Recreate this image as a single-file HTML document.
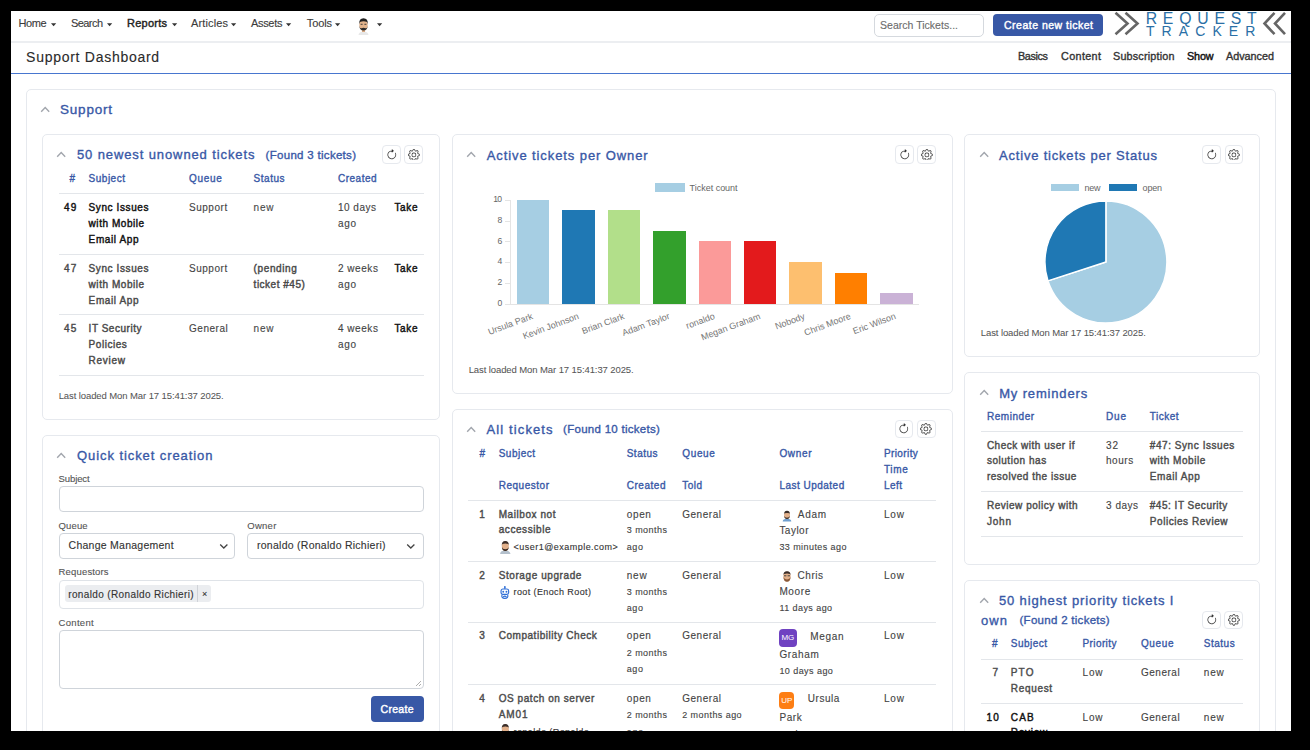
<!DOCTYPE html>
<html><head><meta charset="utf-8"><title>Support Dashboard</title>
<style>
html,body{margin:0;padding:0;}
body{width:1310px;height:750px;background:#000;position:relative;overflow:hidden;font-family:"Liberation Sans",sans-serif;}
#scr{position:absolute;left:0;top:0;width:1310px;height:750px;overflow:hidden;}
.t{position:absolute;white-space:nowrap;line-height:1;font-family:"Liberation Sans",sans-serif;}
.b{position:absolute;}
</style></head><body><div id="scr">
<div class="b" style="left:11.00px;top:11.00px;width:1280.00px;height:720.00px;background:#fff;"></div>
<div class="b" style="left:11.00px;top:41.00px;width:1280.00px;height:2.00px;background:#eceef1;"></div>
<div class="t" style="left:18.40px;top:18.00px;font-size:11px;color:#3b3b3b;letter-spacing:-0.381px;-webkit-text-stroke:0.12px #3b3b3b;">Home</div>
<svg class="b" style="left:51.00px;top:22.60px" width="6" height="4" viewBox="0 0 6 4"><path d="M0 0.2 L5.2 0.2 L2.6 3.2 Z" fill="#333"/></svg>
<div class="t" style="left:71.00px;top:18.00px;font-size:11px;color:#3b3b3b;letter-spacing:-0.571px;-webkit-text-stroke:0.12px #3b3b3b;">Search</div>
<svg class="b" style="left:107.00px;top:22.60px" width="6" height="4" viewBox="0 0 6 4"><path d="M0 0.2 L5.2 0.2 L2.6 3.2 Z" fill="#333"/></svg>
<div class="t" style="left:127.00px;top:18.00px;font-size:11px;color:#222;letter-spacing:0.247px;-webkit-text-stroke:0.42px #222;">Reports</div>
<svg class="b" style="left:172.00px;top:22.60px" width="6" height="4" viewBox="0 0 6 4"><path d="M0 0.2 L5.2 0.2 L2.6 3.2 Z" fill="#333"/></svg>
<div class="t" style="left:191.00px;top:18.00px;font-size:11px;color:#3b3b3b;letter-spacing:0.134px;-webkit-text-stroke:0.12px #3b3b3b;">Articles</div>
<svg class="b" style="left:231.00px;top:22.60px" width="6" height="4" viewBox="0 0 6 4"><path d="M0 0.2 L5.2 0.2 L2.6 3.2 Z" fill="#333"/></svg>
<div class="t" style="left:251.00px;top:18.00px;font-size:11px;color:#3b3b3b;letter-spacing:-0.322px;-webkit-text-stroke:0.12px #3b3b3b;">Assets</div>
<svg class="b" style="left:286.00px;top:22.60px" width="6" height="4" viewBox="0 0 6 4"><path d="M0 0.2 L5.2 0.2 L2.6 3.2 Z" fill="#333"/></svg>
<div class="t" style="left:306.80px;top:18.00px;font-size:11px;color:#3b3b3b;letter-spacing:-0.120px;-webkit-text-stroke:0.12px #3b3b3b;">Tools</div>
<svg class="b" style="left:335.00px;top:22.60px" width="6" height="4" viewBox="0 0 6 4"><path d="M0 0.2 L5.2 0.2 L2.6 3.2 Z" fill="#333"/></svg>
<svg class="b" style="left:377.00px;top:22.60px" width="6" height="4" viewBox="0 0 6 4"><path d="M0 0.2 L5.2 0.2 L2.6 3.2 Z" fill="#333"/></svg>
<svg class="b" style="left:357px;top:16.5px" width="13" height="18" viewBox="0 0 13 18"><path d="M1.5 18 Q2 14.5 6.5 14.5 Q11 14.5 11.5 18Z" fill="#e8e8e8"/><rect x="5" y="12" width="3" height="3" fill="#d8a880"/><ellipse cx="6.5" cy="8" rx="4.2" ry="5.6" fill="#e3b48c"/><path d="M2.2 7.2 Q1.8 1.2 6.5 1.2 Q11.2 1.2 10.8 7.2 L10 5 Q6.5 3.6 3 5 Z" fill="#222"/><path d="M2.3 8.5 Q2.6 13.6 6.5 13.6 Q10.4 13.6 10.7 8.5 Q10.2 11.6 8.5 11.2 Q6.5 10.4 4.5 11.2 Q2.8 11.6 2.3 8.5Z" fill="#2a2a2a"/><rect x="3.6" y="6.8" width="2" height="0.9" fill="#333"/><rect x="7.4" y="6.8" width="2" height="0.9" fill="#333"/></svg>
<div class="b" style="left:874.00px;top:14.00px;width:109.70px;height:22.60px;border:1px solid #d5d9de;border-radius:5px;box-sizing:border-box;"></div>
<div class="t" style="left:880.00px;top:20.00px;font-size:10.5px;color:#6c6c6c;letter-spacing:0.024px;-webkit-text-stroke:0.12px #6c6c6c;">Search Tickets...</div>
<div class="b" style="left:993.00px;top:14.30px;width:110.00px;height:21.70px;background:#3858a6;border-radius:4px;"></div>
<div class="t" style="left:1004.00px;top:20.00px;font-size:10.5px;color:#fff;letter-spacing:0.493px;-webkit-text-stroke:0.42px #fff;">Create new ticket</div>
<svg class="b" style="left:1112px;top:10px" width="180" height="28" viewBox="0 0 180 28"><g fill="none" stroke="#666" stroke-width="2.6" stroke-linecap="butt"><path d="M3.5 2.8 L15.5 13.5 L3.5 24.2"/><path d="M13.5 2.8 L25.5 13.5 L13.5 24.2"/><path d="M162.5 2.8 L152.5 13.5 L162.5 24.2"/><path d="M173 2.8 L163 13.5 L173 24.2"/></g></svg>
<div class="t" style="left:1145.70px;top:11.00px;font-size:15.8px;color:#2a6fa6;letter-spacing:5.770px;">REQUEST</div>
<div class="t" style="left:1146.00px;top:24.00px;font-size:14px;color:#2a6fa6;letter-spacing:7.067px;">TRACKER</div>
<div class="t" style="left:26.10px;top:50.00px;font-size:14px;color:#2b2b2b;letter-spacing:0.724px;-webkit-text-stroke:0.12px #2b2b2b;">Support Dashboard</div>
<div class="b" style="left:11.00px;top:73.00px;width:1280.00px;height:1.00px;background:#4776cf;"></div>
<div class="t" style="left:1018.00px;top:51.00px;font-size:10.8px;color:#333;letter-spacing:-0.362px;-webkit-text-stroke:0.35px #333;">Basics</div>
<div class="t" style="left:1061.00px;top:51.00px;font-size:10.8px;color:#333;letter-spacing:0.362px;-webkit-text-stroke:0.35px #333;">Content</div>
<div class="t" style="left:1113.00px;top:51.00px;font-size:10.8px;color:#333;letter-spacing:0.188px;-webkit-text-stroke:0.35px #333;">Subscription</div>
<div class="t" style="left:1187.00px;top:51.00px;font-size:10.8px;color:#111;letter-spacing:-0.139px;-webkit-text-stroke:0.42px #111;">Show</div>
<div class="t" style="left:1226.00px;top:51.00px;font-size:10.8px;color:#333;letter-spacing:-0.005px;-webkit-text-stroke:0.35px #333;">Advanced</div>
<div class="b" style="left:26.00px;top:89.00px;width:1250.00px;height:712.00px;border:1px solid #e6e9ee;border-radius:5px;box-sizing:border-box;background:#fff;"></div>
<svg class="b" style="left:40px;top:105.5px" width="11" height="8" viewBox="0 0 11 8"><path d="M1.2 5.8 L5.2 1.6 L9.2 5.8" fill="none" stroke="#a2a6ad" stroke-width="1.4"/></svg>
<div class="t" style="left:60.00px;top:103.00px;font-size:13.5px;color:#3858a6;letter-spacing:0.786px;-webkit-text-stroke:0.35px #3858a6;">Support</div>
<div class="b" style="left:42.00px;top:134.00px;width:398.00px;height:286.00px;border:1px solid #e6e9ee;border-radius:5px;box-sizing:border-box;background:#fff;"></div>
<svg class="b" style="left:56.3px;top:150.6px" width="11" height="8" viewBox="0 0 11 8"><path d="M1.2 5.8 L5.2 1.6 L9.2 5.8" fill="none" stroke="#a2a6ad" stroke-width="1.4"/></svg>
<div class="t" style="left:77.00px;top:148.00px;font-size:13px;color:#3858a6;letter-spacing:0.888px;-webkit-text-stroke:0.35px #3858a6;">50 newest unowned tickets</div>
<div class="t" style="left:265.60px;top:150.00px;font-size:11.5px;color:#3858a6;letter-spacing:0.297px;-webkit-text-stroke:0.35px #3858a6;">(Found 3 tickets)</div>
<div class="b" style="left:382.10px;top:145.40px;width:18.80px;height:18.30px;border:1px solid #e6e9ee;border-radius:4px;box-sizing:border-box;background:#fff;"></div>
<div class="b" style="left:404.40px;top:145.40px;width:18.80px;height:18.30px;border:1px solid #e6e9ee;border-radius:4px;box-sizing:border-box;background:#fff;"></div>
<svg class="b" style="left:385.90px;top:148.70px" width="11.6" height="11.6" viewBox="0 0 16 16"><path fill="#333" fill-rule="evenodd" d="M8 3a5 5 0 1 0 4.546 2.914.5.5 0 0 1 .908-.417A6 6 0 1 1 8 2v1zM8 4.466V.534a.25.25 0 0 1 .41-.192l2.36 1.966c.12.1.12.284 0 .384L8.41 4.658A.25.25 0 0 1 8 4.466z"/></svg>
<svg class="b" style="left:408.00px;top:148.60px" width="11.8" height="11.8" viewBox="0 0 16 16"><path fill="#333" d="M8 4.754a3.246 3.246 0 1 0 0 6.492 3.246 3.246 0 0 0 0-6.492zM5.754 8a2.246 2.246 0 1 1 4.492 0 2.246 2.246 0 0 1-4.492 0zM9.796 1.343c-.527-1.79-3.065-1.79-3.592 0l-.094.319a.873.873 0 0 1-1.255.52l-.292-.16c-1.64-.892-3.433.902-2.54 2.541l.159.292a.873.873 0 0 1-.52 1.255l-.319.094c-1.79.527-1.790 3.065 0 3.592l.319.094a.873.873 0 0 1 .52 1.255l-.16.292c-.892 1.64.901 3.434 2.541 2.54l.292-.159a.873.873 0 0 1 1.255.52l.094.319c.527 1.79 3.065 1.79 3.592 0l.094-.319a.873.873 0 0 1 1.255-.52l.292.16c1.64.893 3.434-.902 2.54-2.541l-.159-.292a.873.873 0 0 1 .52-1.255l.319-.094c1.79-.527 1.79-3.065 0-3.592l-.319-.094a.873.873 0 0 1-.52-1.255l.16-.292c.893-1.64-.902-3.433-2.541-2.54l-.292.159a.873.873 0 0 1-1.255-.52l-.094-.319zm-2.633.283c.246-.835 1.428-.835 1.674 0l.094.319a1.873 1.873 0 0 0 2.693 1.115l.291-.16c.764-.415 1.6.42 1.184 1.185l-.159.292a1.873 1.873 0 0 0 1.116 2.692l.318.094c.835.246.835 1.428 0 1.674l-.319.094a1.873 1.873 0 0 0-1.115 2.693l.16.291c.415.764-.42 1.6-1.185 1.184l-.291-.159a1.873 1.873 0 0 0-2.693 1.116l-.094.318c-.246.835-1.428.835-1.674 0l-.094-.319a1.873 1.873 0 0 0-2.692-1.115l-.292.16c-.764.415-1.6-.42-1.184-1.185l.159-.291A1.873 1.873 0 0 0 1.945 8.93l-.319-.094c-.835-.246-.835-1.428 0-1.674l.319-.094A1.873 1.873 0 0 0 3.06 4.377l-.16-.292c-.415-.764.42-1.6 1.185-1.184l.292.159a1.873 1.873 0 0 0 2.692-1.115l.094-.319z"/></svg>
<div class="t" style="left:69.50px;top:174.00px;font-size:10px;color:#3858a6;-webkit-text-stroke:0.35px #3858a6;">#</div>
<div class="t" style="left:88.60px;top:174.00px;font-size:10px;color:#3858a6;letter-spacing:0.500px;-webkit-text-stroke:0.35px #3858a6;">Subject</div>
<div class="t" style="left:189.00px;top:174.00px;font-size:10px;color:#3858a6;letter-spacing:0.676px;-webkit-text-stroke:0.35px #3858a6;">Queue</div>
<div class="t" style="left:253.60px;top:174.00px;font-size:10px;color:#3858a6;letter-spacing:0.510px;-webkit-text-stroke:0.35px #3858a6;">Status</div>
<div class="t" style="left:337.90px;top:174.00px;font-size:10px;color:#3858a6;letter-spacing:0.534px;-webkit-text-stroke:0.35px #3858a6;">Created</div>
<div class="b" style="left:58.80px;top:192.70px;width:364.90px;height:1.00px;background:#e3e6ea;"></div>
<div class="t" style="left:64.05px;top:203.00px;font-size:10px;color:#111;letter-spacing:1.224px;-webkit-text-stroke:0.42px #111;">49</div>
<div class="t" style="left:88.60px;top:203.00px;font-size:10px;color:#111;letter-spacing:0.593px;-webkit-text-stroke:0.42px #111;">Sync Issues</div>
<div class="t" style="left:88.60px;top:219.00px;font-size:10px;color:#111;letter-spacing:0.550px;-webkit-text-stroke:0.42px #111;">with Mobile</div>
<div class="t" style="left:88.60px;top:235.00px;font-size:10px;color:#111;letter-spacing:0.619px;-webkit-text-stroke:0.42px #111;">Email App</div>
<div class="t" style="left:189.00px;top:203.00px;font-size:10px;color:#444;letter-spacing:0.525px;-webkit-text-stroke:0.12px #444;">Support</div>
<div class="t" style="left:253.60px;top:203.00px;font-size:10px;color:#4a4a4a;letter-spacing:0.826px;-webkit-text-stroke:0.12px #4a4a4a;">new</div>
<div class="t" style="left:337.90px;top:203.00px;font-size:10px;color:#444;letter-spacing:0.525px;-webkit-text-stroke:0.12px #444;">10 days</div>
<div class="t" style="left:337.90px;top:219.00px;font-size:10px;color:#444;letter-spacing:0.751px;-webkit-text-stroke:0.12px #444;">ago</div>
<div class="t" style="left:394.40px;top:203.00px;font-size:10px;color:#111;letter-spacing:0.692px;-webkit-text-stroke:0.42px #111;">Take</div>
<div class="t" style="left:64.05px;top:264.00px;font-size:10px;color:#4a4a4a;letter-spacing:1.224px;-webkit-text-stroke:0.42px #4a4a4a;">47</div>
<div class="t" style="left:88.60px;top:264.00px;font-size:10px;color:#4a4a4a;letter-spacing:0.593px;-webkit-text-stroke:0.42px #4a4a4a;">Sync Issues</div>
<div class="t" style="left:88.60px;top:280.00px;font-size:10px;color:#4a4a4a;letter-spacing:0.550px;-webkit-text-stroke:0.42px #4a4a4a;">with Mobile</div>
<div class="t" style="left:88.60px;top:296.00px;font-size:10px;color:#4a4a4a;letter-spacing:0.619px;-webkit-text-stroke:0.42px #4a4a4a;">Email App</div>
<div class="t" style="left:189.00px;top:264.00px;font-size:10px;color:#444;letter-spacing:0.525px;-webkit-text-stroke:0.12px #444;">Support</div>
<div class="t" style="left:253.60px;top:264.00px;font-size:10px;color:#4a4a4a;letter-spacing:0.612px;-webkit-text-stroke:0.42px #4a4a4a;">(pending</div>
<div class="t" style="left:253.60px;top:280.00px;font-size:10px;color:#4a4a4a;letter-spacing:0.507px;-webkit-text-stroke:0.42px #4a4a4a;">ticket #45)</div>
<div class="t" style="left:337.90px;top:264.00px;font-size:10px;color:#444;letter-spacing:0.550px;-webkit-text-stroke:0.12px #444;">2 weeks</div>
<div class="t" style="left:337.90px;top:280.00px;font-size:10px;color:#444;letter-spacing:0.751px;-webkit-text-stroke:0.12px #444;">ago</div>
<div class="t" style="left:394.40px;top:264.00px;font-size:10px;color:#111;letter-spacing:0.692px;-webkit-text-stroke:0.42px #111;">Take</div>
<div class="t" style="left:64.05px;top:324.00px;font-size:10px;color:#4a4a4a;letter-spacing:1.224px;-webkit-text-stroke:0.42px #4a4a4a;">45</div>
<div class="t" style="left:88.60px;top:324.00px;font-size:10px;color:#4a4a4a;letter-spacing:0.524px;-webkit-text-stroke:0.42px #4a4a4a;">IT Security</div>
<div class="t" style="left:88.60px;top:340.00px;font-size:10px;color:#4a4a4a;letter-spacing:0.542px;-webkit-text-stroke:0.42px #4a4a4a;">Policies</div>
<div class="t" style="left:88.60px;top:356.00px;font-size:10px;color:#4a4a4a;letter-spacing:0.721px;-webkit-text-stroke:0.42px #4a4a4a;">Review</div>
<div class="t" style="left:189.00px;top:324.00px;font-size:10px;color:#444;letter-spacing:0.534px;-webkit-text-stroke:0.12px #444;">General</div>
<div class="t" style="left:253.60px;top:324.00px;font-size:10px;color:#4a4a4a;letter-spacing:0.826px;-webkit-text-stroke:0.12px #4a4a4a;">new</div>
<div class="t" style="left:337.90px;top:324.00px;font-size:10px;color:#444;letter-spacing:0.550px;-webkit-text-stroke:0.12px #444;">4 weeks</div>
<div class="t" style="left:337.90px;top:340.00px;font-size:10px;color:#444;letter-spacing:0.751px;-webkit-text-stroke:0.12px #444;">ago</div>
<div class="t" style="left:394.40px;top:324.00px;font-size:10px;color:#111;letter-spacing:0.692px;-webkit-text-stroke:0.42px #111;">Take</div>
<div class="b" style="left:58.80px;top:253.80px;width:364.90px;height:1.00px;background:#e3e6ea;"></div>
<div class="b" style="left:58.80px;top:313.60px;width:364.90px;height:1.00px;background:#e3e6ea;"></div>
<div class="b" style="left:58.80px;top:374.70px;width:364.90px;height:1.00px;background:#e3e6ea;"></div>
<div class="t" style="left:58.70px;top:391.00px;font-size:9.5px;color:#555;letter-spacing:-0.097px;-webkit-text-stroke:0.05px #555;">Last loaded Mon Mar 17 15:41:37 2025.</div>
<div class="b" style="left:42.00px;top:435.00px;width:398.00px;height:366.00px;border:1px solid #e6e9ee;border-radius:5px;box-sizing:border-box;background:#fff;"></div>
<svg class="b" style="left:56.3px;top:451.6px" width="11" height="8" viewBox="0 0 11 8"><path d="M1.2 5.8 L5.2 1.6 L9.2 5.8" fill="none" stroke="#a2a6ad" stroke-width="1.4"/></svg>
<div class="t" style="left:77.00px;top:449.00px;font-size:13px;color:#3858a6;letter-spacing:0.923px;-webkit-text-stroke:0.35px #3858a6;">Quick ticket creation</div>
<div class="t" style="left:58.60px;top:474.00px;font-size:9.5px;color:#555;letter-spacing:-0.115px;-webkit-text-stroke:0.12px #555;">Subject</div>
<div class="b" style="left:58.60px;top:485.60px;width:365.00px;height:26.40px;border:1px solid #cfd4da;border-radius:4px;box-sizing:border-box;"></div>
<div class="t" style="left:58.60px;top:521.00px;font-size:9.5px;color:#555;letter-spacing:0.119px;-webkit-text-stroke:0.12px #555;">Queue</div>
<div class="t" style="left:247.30px;top:521.00px;font-size:9.5px;color:#555;letter-spacing:0.255px;-webkit-text-stroke:0.12px #555;">Owner</div>
<div class="b" style="left:58.60px;top:532.60px;width:176.00px;height:26.00px;border:1px solid #cfd4da;border-radius:4px;box-sizing:border-box;"></div>
<div class="b" style="left:247.30px;top:532.60px;width:176.30px;height:26.00px;border:1px solid #cfd4da;border-radius:4px;box-sizing:border-box;"></div>
<div class="t" style="left:68.60px;top:540.00px;font-size:10.5px;color:#333;letter-spacing:0.251px;-webkit-text-stroke:0.12px #333;">Change Management</div>
<div class="t" style="left:257.00px;top:540.00px;font-size:10.5px;color:#333;letter-spacing:0.261px;-webkit-text-stroke:0.12px #333;">ronaldo (Ronaldo Richieri)</div>
<svg class="b" style="left:218.8px;top:542.5px" width="10" height="7" viewBox="0 0 10 7"><path d="M1.2 1.5 L4.8 5 L8.4 1.5" fill="none" stroke="#444" stroke-width="1.3"/></svg>
<svg class="b" style="left:405.5px;top:542.5px" width="10" height="7" viewBox="0 0 10 7"><path d="M1.2 1.5 L4.8 5 L8.4 1.5" fill="none" stroke="#444" stroke-width="1.3"/></svg>
<div class="t" style="left:58.60px;top:567.00px;font-size:9.5px;color:#555;letter-spacing:0.158px;-webkit-text-stroke:0.12px #555;">Requestors</div>
<div class="b" style="left:58.60px;top:580.40px;width:365.00px;height:29.00px;border:1px solid #dfe3e8;border-radius:4px;box-sizing:border-box;"></div>
<div class="b" style="left:64.60px;top:585.40px;width:146.80px;height:16.60px;background:#ebedf0;border-radius:3px;"></div>
<div class="b" style="left:197.40px;top:585.40px;width:0.80px;height:16.60px;background:#d0d3d8;"></div>
<div class="t" style="left:68.20px;top:590.00px;font-size:10px;color:#333;letter-spacing:0.373px;-webkit-text-stroke:0.12px #333;">ronaldo (Ronaldo Richieri)</div>
<div class="t" style="left:202.00px;top:590.00px;font-size:9px;color:#333;-webkit-text-stroke:0.12px #333;">×</div>
<div class="t" style="left:58.60px;top:618.00px;font-size:9.5px;color:#555;letter-spacing:0.288px;-webkit-text-stroke:0.12px #555;">Content</div>
<div class="b" style="left:58.60px;top:630.20px;width:365.00px;height:58.70px;border:1px solid #cfd4da;border-radius:4px;box-sizing:border-box;"></div>
<svg class="b" style="left:414px;top:679px" width="8" height="8" viewBox="0 0 8 8"><path d="M7 2 L2 7 M7 5 L5 7" stroke="#999" stroke-width="0.8"/></svg>
<div class="b" style="left:370.50px;top:696.20px;width:53.10px;height:25.50px;background:#3858a6;border-radius:4px;"></div>
<div class="t" style="left:380.50px;top:704.00px;font-size:10.5px;color:#fff;letter-spacing:0.297px;-webkit-text-stroke:0.42px #fff;">Create</div>
<div class="b" style="left:452.00px;top:134.00px;width:501.00px;height:260.00px;border:1px solid #e6e9ee;border-radius:5px;box-sizing:border-box;background:#fff;"></div>
<svg class="b" style="left:466.3px;top:150.6px" width="11" height="8" viewBox="0 0 11 8"><path d="M1.2 5.8 L5.2 1.6 L9.2 5.8" fill="none" stroke="#a2a6ad" stroke-width="1.4"/></svg>
<div class="t" style="left:486.70px;top:149.00px;font-size:13px;color:#3858a6;letter-spacing:0.906px;-webkit-text-stroke:0.35px #3858a6;">Active tickets per Owner</div>
<div class="b" style="left:895.00px;top:145.30px;width:18.80px;height:18.30px;border:1px solid #e6e9ee;border-radius:4px;box-sizing:border-box;background:#fff;"></div>
<div class="b" style="left:917.30px;top:145.30px;width:18.80px;height:18.30px;border:1px solid #e6e9ee;border-radius:4px;box-sizing:border-box;background:#fff;"></div>
<svg class="b" style="left:898.80px;top:148.60px" width="11.6" height="11.6" viewBox="0 0 16 16"><path fill="#333" fill-rule="evenodd" d="M8 3a5 5 0 1 0 4.546 2.914.5.5 0 0 1 .908-.417A6 6 0 1 1 8 2v1zM8 4.466V.534a.25.25 0 0 1 .41-.192l2.36 1.966c.12.1.12.284 0 .384L8.41 4.658A.25.25 0 0 1 8 4.466z"/></svg>
<svg class="b" style="left:920.90px;top:148.50px" width="11.8" height="11.8" viewBox="0 0 16 16"><path fill="#333" d="M8 4.754a3.246 3.246 0 1 0 0 6.492 3.246 3.246 0 0 0 0-6.492zM5.754 8a2.246 2.246 0 1 1 4.492 0 2.246 2.246 0 0 1-4.492 0zM9.796 1.343c-.527-1.79-3.065-1.79-3.592 0l-.094.319a.873.873 0 0 1-1.255.52l-.292-.16c-1.64-.892-3.433.902-2.54 2.541l.159.292a.873.873 0 0 1-.52 1.255l-.319.094c-1.79.527-1.790 3.065 0 3.592l.319.094a.873.873 0 0 1 .52 1.255l-.16.292c-.892 1.64.901 3.434 2.541 2.54l.292-.159a.873.873 0 0 1 1.255.52l.094.319c.527 1.79 3.065 1.79 3.592 0l.094-.319a.873.873 0 0 1 1.255-.52l.292.16c1.64.893 3.434-.902 2.54-2.541l-.159-.292a.873.873 0 0 1 .52-1.255l.319-.094c1.79-.527 1.79-3.065 0-3.592l-.319-.094a.873.873 0 0 1-.52-1.255l.16-.292c.893-1.64-.902-3.433-2.541-2.54l-.292.159a.873.873 0 0 1-1.255-.52l-.094-.319zm-2.633.283c.246-.835 1.428-.835 1.674 0l.094.319a1.873 1.873 0 0 0 2.693 1.115l.291-.16c.764-.415 1.6.42 1.184 1.185l-.159.292a1.873 1.873 0 0 0 1.116 2.692l.318.094c.835.246.835 1.428 0 1.674l-.319.094a1.873 1.873 0 0 0-1.115 2.693l.16.291c.415.764-.42 1.6-1.185 1.184l-.291-.159a1.873 1.873 0 0 0-2.693 1.116l-.094.318c-.246.835-1.428.835-1.674 0l-.094-.319a1.873 1.873 0 0 0-2.692-1.115l-.292.16c-.764.415-1.6-.42-1.184-1.185l.159-.291A1.873 1.873 0 0 0 1.945 8.93l-.319-.094c-.835-.246-.835-1.428 0-1.674l.319-.094A1.873 1.873 0 0 0 3.06 4.377l-.16-.292c-.415-.764.42-1.6 1.185-1.184l.292.159a1.873 1.873 0 0 0 2.692-1.115l.094-.319z"/></svg>
<div class="b" style="left:655.20px;top:183.40px;width:30.00px;height:8.60px;background:#a6cee3;"></div>
<div class="t" style="left:689.60px;top:184.00px;font-size:9px;color:#666;letter-spacing:-0.017px;">Ticket count</div>
<div class="b" style="left:510px;top:200px;width:1px;height:104.10000000000002px;background:#e4e4e4"></div>
<div class="b" style="left:510px;top:303.6px;width:409px;height:1px;background:#e4e4e4"></div>
<div class="b" style="left:504.7px;top:303.60px;width:5.5px;height:1px;background:#e4e4e4"></div>
<div class="t" style="left:497.60px;top:299.00px;font-size:8.6px;color:#666;">0</div>
<div class="b" style="left:504.7px;top:282.88px;width:5.5px;height:1px;background:#e4e4e4"></div>
<div class="t" style="left:497.60px;top:278.00px;font-size:8.6px;color:#666;">2</div>
<div class="b" style="left:504.7px;top:262.16px;width:5.5px;height:1px;background:#e4e4e4"></div>
<div class="t" style="left:497.60px;top:257.00px;font-size:8.6px;color:#666;">4</div>
<div class="b" style="left:504.7px;top:241.44px;width:5.5px;height:1px;background:#e4e4e4"></div>
<div class="t" style="left:497.60px;top:237.00px;font-size:8.6px;color:#666;">6</div>
<div class="b" style="left:504.7px;top:220.72px;width:5.5px;height:1px;background:#e4e4e4"></div>
<div class="t" style="left:497.60px;top:216.00px;font-size:8.6px;color:#666;">8</div>
<div class="b" style="left:504.7px;top:200.00px;width:5.5px;height:1px;background:#e4e4e4"></div>
<div class="t" style="left:493.20px;top:195.00px;font-size:8.6px;color:#666;letter-spacing:-0.765px;">10</div>
<div class="b" style="left:517.00px;top:200.00px;width:32.40px;height:103.60px;background:#a6cee3;"></div>
<div class="t" style="left:484.19px;top:312.00px;font-size:9px;color:#767676;transform-origin:100% 0;transform:rotate(-20.5deg)">Ursula Park</div>
<div class="b" style="left:562.30px;top:210.36px;width:32.70px;height:93.24px;background:#1f78b4;"></div>
<div class="t" style="left:517.61px;top:312.00px;font-size:9px;color:#767676;transform-origin:100% 0;transform:rotate(-20.5deg)">Kevin Johnson</div>
<div class="b" style="left:608.00px;top:210.36px;width:32.20px;height:93.24px;background:#b2df8a;"></div>
<div class="t" style="left:577.59px;top:312.00px;font-size:9px;color:#767676;transform-origin:100% 0;transform:rotate(-20.5deg)">Brian Clark</div>
<div class="b" style="left:653.40px;top:231.08px;width:32.20px;height:72.52px;background:#33a02c;"></div>
<div class="t" style="left:617.64px;top:312.00px;font-size:9px;color:#767676;transform-origin:100% 0;transform:rotate(-20.5deg)">Adam Taylor</div>
<div class="b" style="left:698.50px;top:241.44px;width:32.50px;height:62.16px;background:#fb9a99;"></div>
<div class="t" style="left:682.73px;top:312.00px;font-size:9px;color:#767676;transform-origin:100% 0;transform:rotate(-20.5deg)">ronaldo</div>
<div class="b" style="left:744.00px;top:241.44px;width:32.20px;height:62.16px;background:#e31a1c;"></div>
<div class="t" style="left:695.57px;top:312.00px;font-size:9px;color:#767676;transform-origin:100% 0;transform:rotate(-20.5deg)">Megan Graham</div>
<div class="b" style="left:789.00px;top:262.16px;width:33.00px;height:41.44px;background:#fdbf6f;"></div>
<div class="t" style="left:772.48px;top:312.00px;font-size:9px;color:#767676;transform-origin:100% 0;transform:rotate(-20.5deg)">Nobody</div>
<div class="b" style="left:834.70px;top:272.52px;width:32.60px;height:31.08px;background:#ff7f00;"></div>
<div class="t" style="left:799.99px;top:312.00px;font-size:9px;color:#767676;transform-origin:100% 0;transform:rotate(-20.5deg)">Chris Moore</div>
<div class="b" style="left:880.00px;top:293.24px;width:32.70px;height:10.36px;background:#cab2d6;"></div>
<div class="t" style="left:849.34px;top:312.00px;font-size:9px;color:#767676;transform-origin:100% 0;transform:rotate(-20.5deg)">Eric Wilson</div>
<div class="t" style="left:468.70px;top:365.00px;font-size:9.5px;color:#555;letter-spacing:-0.097px;-webkit-text-stroke:0.05px #555;">Last loaded Mon Mar 17 15:41:37 2025.</div>
<div class="b" style="left:452.00px;top:409.00px;width:501.00px;height:392.00px;border:1px solid #e6e9ee;border-radius:5px;box-sizing:border-box;background:#fff;"></div>
<svg class="b" style="left:466.3px;top:425.6px" width="11" height="8" viewBox="0 0 11 8"><path d="M1.2 5.8 L5.2 1.6 L9.2 5.8" fill="none" stroke="#a2a6ad" stroke-width="1.4"/></svg>
<div class="t" style="left:486.60px;top:423.00px;font-size:13px;color:#3858a6;letter-spacing:1.110px;-webkit-text-stroke:0.35px #3858a6;">All tickets</div>
<div class="t" style="left:563.10px;top:424.00px;font-size:11.5px;color:#3858a6;letter-spacing:0.274px;-webkit-text-stroke:0.35px #3858a6;">(Found 10 tickets)</div>
<div class="b" style="left:894.50px;top:420.10px;width:18.80px;height:18.30px;border:1px solid #e6e9ee;border-radius:4px;box-sizing:border-box;background:#fff;"></div>
<div class="b" style="left:916.80px;top:420.10px;width:18.80px;height:18.30px;border:1px solid #e6e9ee;border-radius:4px;box-sizing:border-box;background:#fff;"></div>
<svg class="b" style="left:898.30px;top:423.40px" width="11.6" height="11.6" viewBox="0 0 16 16"><path fill="#333" fill-rule="evenodd" d="M8 3a5 5 0 1 0 4.546 2.914.5.5 0 0 1 .908-.417A6 6 0 1 1 8 2v1zM8 4.466V.534a.25.25 0 0 1 .41-.192l2.36 1.966c.12.1.12.284 0 .384L8.41 4.658A.25.25 0 0 1 8 4.466z"/></svg>
<svg class="b" style="left:920.40px;top:423.30px" width="11.8" height="11.8" viewBox="0 0 16 16"><path fill="#333" d="M8 4.754a3.246 3.246 0 1 0 0 6.492 3.246 3.246 0 0 0 0-6.492zM5.754 8a2.246 2.246 0 1 1 4.492 0 2.246 2.246 0 0 1-4.492 0zM9.796 1.343c-.527-1.79-3.065-1.79-3.592 0l-.094.319a.873.873 0 0 1-1.255.52l-.292-.16c-1.64-.892-3.433.902-2.54 2.541l.159.292a.873.873 0 0 1-.52 1.255l-.319.094c-1.79.527-1.790 3.065 0 3.592l.319.094a.873.873 0 0 1 .52 1.255l-.16.292c-.892 1.64.901 3.434 2.541 2.54l.292-.159a.873.873 0 0 1 1.255.52l.094.319c.527 1.79 3.065 1.79 3.592 0l.094-.319a.873.873 0 0 1 1.255-.52l.292.16c1.64.893 3.434-.902 2.54-2.541l-.159-.292a.873.873 0 0 1 .52-1.255l.319-.094c1.79-.527 1.79-3.065 0-3.592l-.319-.094a.873.873 0 0 1-.52-1.255l.16-.292c.893-1.64-.902-3.433-2.541-2.54l-.292.159a.873.873 0 0 1-1.255-.52l-.094-.319zm-2.633.283c.246-.835 1.428-.835 1.674 0l.094.319a1.873 1.873 0 0 0 2.693 1.115l.291-.16c.764-.415 1.6.42 1.184 1.185l-.159.292a1.873 1.873 0 0 0 1.116 2.692l.318.094c.835.246.835 1.428 0 1.674l-.319.094a1.873 1.873 0 0 0-1.115 2.693l.16.291c.415.764-.42 1.6-1.185 1.184l-.291-.159a1.873 1.873 0 0 0-2.693 1.116l-.094.318c-.246.835-1.428.835-1.674 0l-.094-.319a1.873 1.873 0 0 0-2.692-1.115l-.292.16c-.764.415-1.6-.42-1.184-1.185l.159-.291A1.873 1.873 0 0 0 1.945 8.93l-.319-.094c-.835-.246-.835-1.428 0-1.674l.319-.094A1.873 1.873 0 0 0 3.06 4.377l-.16-.292c-.415-.764.42-1.6 1.185-1.184l.292.159a1.873 1.873 0 0 0 2.692-1.115l.094-.319z"/></svg>
<div class="t" style="left:479.50px;top:449.00px;font-size:10px;color:#3858a6;-webkit-text-stroke:0.35px #3858a6;">#</div>
<div class="t" style="left:498.70px;top:449.00px;font-size:10px;color:#3858a6;letter-spacing:0.500px;-webkit-text-stroke:0.35px #3858a6;">Subject</div>
<div class="t" style="left:626.70px;top:449.00px;font-size:10px;color:#3858a6;letter-spacing:0.510px;-webkit-text-stroke:0.35px #3858a6;">Status</div>
<div class="t" style="left:682.20px;top:449.00px;font-size:10px;color:#3858a6;letter-spacing:0.676px;-webkit-text-stroke:0.35px #3858a6;">Queue</div>
<div class="t" style="left:779.40px;top:449.00px;font-size:10px;color:#3858a6;letter-spacing:0.663px;-webkit-text-stroke:0.35px #3858a6;">Owner</div>
<div class="t" style="left:883.90px;top:449.00px;font-size:10px;color:#3858a6;letter-spacing:0.400px;-webkit-text-stroke:0.35px #3858a6;">Priority</div>
<div class="t" style="left:883.90px;top:465.00px;font-size:10px;color:#3858a6;letter-spacing:0.656px;-webkit-text-stroke:0.35px #3858a6;">Time</div>
<div class="t" style="left:498.70px;top:481.00px;font-size:10px;color:#3858a6;letter-spacing:0.519px;-webkit-text-stroke:0.35px #3858a6;">Requestor</div>
<div class="t" style="left:626.70px;top:481.00px;font-size:10px;color:#3858a6;letter-spacing:0.534px;-webkit-text-stroke:0.35px #3858a6;">Created</div>
<div class="t" style="left:682.20px;top:481.00px;font-size:10px;color:#3858a6;letter-spacing:0.550px;-webkit-text-stroke:0.35px #3858a6;">Told</div>
<div class="t" style="left:779.40px;top:481.00px;font-size:10px;color:#3858a6;letter-spacing:0.487px;-webkit-text-stroke:0.35px #3858a6;">Last Updated</div>
<div class="t" style="left:883.90px;top:481.00px;font-size:10px;color:#3858a6;letter-spacing:0.500px;-webkit-text-stroke:0.35px #3858a6;">Left</div>
<div class="b" style="left:468.20px;top:500.10px;width:467.50px;height:1.00px;background:#e3e6ea;"></div>
<div class="t" style="left:479.33px;top:510.00px;font-size:10px;color:#4d4d4d;-webkit-text-stroke:0.42px #4d4d4d;">1</div>
<div class="t" style="left:498.70px;top:510.00px;font-size:10px;color:#4d4d4d;letter-spacing:0.563px;-webkit-text-stroke:0.42px #4d4d4d;">Mailbox not</div>
<div class="t" style="left:498.70px;top:525.00px;font-size:10px;color:#4d4d4d;letter-spacing:0.571px;-webkit-text-stroke:0.42px #4d4d4d;">accessible</div>
<svg class="b" style="left:498.7px;top:540.3px" width="12.6" height="14" viewBox="0 0 12 14"><path d="M0.8 14 Q1 10.6 6 10.6 Q11 10.6 11.2 14Z" fill="#b4c0cc"/><ellipse cx="6" cy="6.2" rx="3.5" ry="4.6" fill="#e2b08a"/><path d="M2.5 5.8 Q2.2 1 6 1 Q9.8 1 9.5 5.8 L9 4 Q6 3.2 3 4Z" fill="#3a2e2a"/><path d="M2.6 7 Q2.8 11 6 11 Q9.2 11 9.4 7 Q8.8 9.2 6 9.3 Q3.2 9.2 2.6 7Z" fill="#3a2a22"/></svg>
<div class="t" style="left:513.50px;top:543.00px;font-size:9px;color:#333;letter-spacing:0.478px;-webkit-text-stroke:0.12px #333;">&lt;user1@example.com&gt;</div>
<div class="t" style="left:626.70px;top:510.00px;font-size:10px;color:#444;letter-spacing:0.667px;-webkit-text-stroke:0.12px #444;">open</div>
<div class="t" style="left:626.70px;top:526.00px;font-size:9px;color:#444;letter-spacing:0.476px;-webkit-text-stroke:0.12px #444;">3 months</div>
<div class="t" style="left:626.70px;top:543.00px;font-size:9px;color:#444;letter-spacing:0.676px;-webkit-text-stroke:0.12px #444;">ago</div>
<div class="t" style="left:682.20px;top:510.00px;font-size:10px;color:#444;letter-spacing:0.534px;-webkit-text-stroke:0.12px #444;">General</div>
<svg class="b" style="left:782px;top:508.5px" width="10" height="13.5" viewBox="0 0 12 14"><path d="M0.8 14 Q1 10.6 6 10.6 Q11 10.6 11.2 14Z" fill="#6f9fd0"/><ellipse cx="6" cy="6.2" rx="3.5" ry="4.6" fill="#e2b08a"/><path d="M2.5 5.8 Q2.2 1 6 1 Q9.8 1 9.5 5.8 L9 4 Q6 3.2 3 4Z" fill="#3a2e2a"/><path d="M2.6 7 Q2.8 11 6 11 Q9.2 11 9.4 7 Q8.8 9.2 6 9.3 Q3.2 9.2 2.6 7Z" fill="#3a2a22"/></svg>
<div class="t" style="left:797.70px;top:510.00px;font-size:10px;color:#444;letter-spacing:0.784px;-webkit-text-stroke:0.12px #444;">Adam</div>
<div class="t" style="left:779.40px;top:526.00px;font-size:10px;color:#444;letter-spacing:0.480px;-webkit-text-stroke:0.12px #444;">Taylor</div>
<div class="t" style="left:779.40px;top:543.00px;font-size:9px;color:#444;letter-spacing:0.426px;-webkit-text-stroke:0.12px #444;">33 minutes ago</div>
<div class="t" style="left:883.90px;top:510.00px;font-size:10px;color:#444;letter-spacing:0.826px;-webkit-text-stroke:0.12px #444;">Low</div>
<div class="b" style="left:468.20px;top:560.90px;width:467.50px;height:1.00px;background:#e3e6ea;"></div>
<div class="t" style="left:479.33px;top:571.00px;font-size:10px;color:#4d4d4d;-webkit-text-stroke:0.42px #4d4d4d;">2</div>
<div class="t" style="left:498.70px;top:571.00px;font-size:10px;color:#4d4d4d;letter-spacing:0.585px;-webkit-text-stroke:0.42px #4d4d4d;">Storage upgrade</div>
<svg class="b" style="left:499.3px;top:585.7px" width="11.7" height="13.3" viewBox="0 0 12 14"><g fill="none" stroke="#2f6fd6" stroke-width="1.2"><rect x="2" y="3.2" width="8" height="5.6" rx="2"/><path d="M6 0.8 V3.2 M3 9 Q2 13 6 13 Q10 13 9 9 M4.2 11.4 Q6 10 7.8 11.4"/></g><circle cx="4.3" cy="6" r="1" fill="#2f6fd6"/><circle cx="7.7" cy="6" r="1" fill="#2f6fd6"/><circle cx="6" cy="1" r="0.9" fill="#2f6fd6"/></svg>
<div class="t" style="left:513.50px;top:588.00px;font-size:9px;color:#333;letter-spacing:0.400px;-webkit-text-stroke:0.12px #333;">root (Enoch Root)</div>
<div class="t" style="left:626.70px;top:571.00px;font-size:10px;color:#444;letter-spacing:0.826px;-webkit-text-stroke:0.12px #444;">new</div>
<div class="t" style="left:626.70px;top:588.00px;font-size:9px;color:#444;letter-spacing:0.476px;-webkit-text-stroke:0.12px #444;">3 months</div>
<div class="t" style="left:626.70px;top:604.00px;font-size:9px;color:#444;letter-spacing:0.676px;-webkit-text-stroke:0.12px #444;">ago</div>
<div class="t" style="left:682.20px;top:571.00px;font-size:10px;color:#444;letter-spacing:0.534px;-webkit-text-stroke:0.12px #444;">General</div>
<svg class="b" style="left:782.9px;top:570.5px" width="8" height="11" viewBox="0 0 8 11"><ellipse cx="4" cy="5.6" rx="3.7" ry="5" fill="#e2b08a"/><path d="M0.4 4.2 Q0.3 0.3 4 0.3 Q7.7 0.3 7.6 4.2 L7 3 Q4 2.2 1 3Z" fill="#3a2e2a"/><path d="M0.5 6 Q0.6 10.8 4 10.8 Q7.4 10.8 7.5 6 Q6.8 8.4 4 8.5 Q1.2 8.4 0.5 6Z" fill="#8a5a3a"/><path d="M1 4.8 H3.4 M4.6 4.8 H7" stroke="#333" stroke-width="0.9"/></svg>
<div class="t" style="left:797.60px;top:571.00px;font-size:10px;color:#444;letter-spacing:0.525px;-webkit-text-stroke:0.12px #444;">Chris</div>
<div class="t" style="left:779.40px;top:587.00px;font-size:10px;color:#444;letter-spacing:0.638px;-webkit-text-stroke:0.12px #444;">Moore</div>
<div class="t" style="left:779.40px;top:604.00px;font-size:9px;color:#444;letter-spacing:0.435px;-webkit-text-stroke:0.12px #444;">11 days ago</div>
<div class="t" style="left:883.90px;top:571.00px;font-size:10px;color:#444;letter-spacing:0.826px;-webkit-text-stroke:0.12px #444;">Low</div>
<div class="b" style="left:468.20px;top:622.10px;width:467.50px;height:1.00px;background:#e3e6ea;"></div>
<div class="t" style="left:479.33px;top:631.00px;font-size:10px;color:#4d4d4d;-webkit-text-stroke:0.42px #4d4d4d;">3</div>
<div class="t" style="left:498.70px;top:631.00px;font-size:10px;color:#4d4d4d;letter-spacing:0.540px;-webkit-text-stroke:0.42px #4d4d4d;">Compatibility Check</div>
<div class="t" style="left:626.70px;top:631.00px;font-size:10px;color:#444;letter-spacing:0.667px;-webkit-text-stroke:0.12px #444;">open</div>
<div class="t" style="left:626.70px;top:649.00px;font-size:9px;color:#444;letter-spacing:0.476px;-webkit-text-stroke:0.12px #444;">2 months</div>
<div class="t" style="left:626.70px;top:665.00px;font-size:9px;color:#444;letter-spacing:0.676px;-webkit-text-stroke:0.12px #444;">ago</div>
<div class="t" style="left:682.20px;top:631.00px;font-size:10px;color:#444;letter-spacing:0.534px;-webkit-text-stroke:0.12px #444;">General</div>
<div class="b" style="left:778.90px;top:629.30px;width:18.00px;height:17.50px;background:#6f42c1;border-radius:4px;"></div>
<div class="t" style="left:778.90px;top:634.05px;width:18px;text-align:center;font-size:8px;color:#fff;line-height:8px">MG</div>
<div class="t" style="left:810.20px;top:632.00px;font-size:10px;color:#444;letter-spacing:0.688px;-webkit-text-stroke:0.12px #444;">Megan</div>
<div class="t" style="left:779.40px;top:650.00px;font-size:10px;color:#444;letter-spacing:0.650px;-webkit-text-stroke:0.12px #444;">Graham</div>
<div class="t" style="left:779.40px;top:667.00px;font-size:9px;color:#444;letter-spacing:0.441px;-webkit-text-stroke:0.12px #444;">10 days ago</div>
<div class="t" style="left:883.90px;top:631.00px;font-size:10px;color:#444;letter-spacing:0.826px;-webkit-text-stroke:0.12px #444;">Low</div>
<div class="b" style="left:468.20px;top:684.40px;width:467.50px;height:1.00px;background:#e3e6ea;"></div>
<div class="t" style="left:479.33px;top:694.00px;font-size:10px;color:#4d4d4d;-webkit-text-stroke:0.42px #4d4d4d;">4</div>
<div class="t" style="left:498.70px;top:694.00px;font-size:10px;color:#4d4d4d;letter-spacing:0.557px;-webkit-text-stroke:0.42px #4d4d4d;">OS patch on server</div>
<div class="t" style="left:498.70px;top:710.00px;font-size:10px;color:#4d4d4d;letter-spacing:0.958px;-webkit-text-stroke:0.42px #4d4d4d;">AM01</div>
<svg class="b" style="left:498.7px;top:723px" width="12.6" height="14" viewBox="0 0 12 14"><path d="M0.8 14 Q1 10.6 6 10.6 Q11 10.6 11.2 14Z" fill="#e0e0e0"/><ellipse cx="6" cy="6.2" rx="3.5" ry="4.6" fill="#e2b08a"/><path d="M2.5 5.8 Q2.2 1 6 1 Q9.8 1 9.5 5.8 L9 4 Q6 3.2 3 4Z" fill="#3a2e2a"/><path d="M2.6 7 Q2.8 11 6 11 Q9.2 11 9.4 7 Q8.8 9.2 6 9.3 Q3.2 9.2 2.6 7Z" fill="#3a2a22"/></svg>
<div class="t" style="left:513.50px;top:728.00px;font-size:9px;color:#333;letter-spacing:0.414px;-webkit-text-stroke:0.12px #333;">ronaldo (Ronaldo</div>
<div class="t" style="left:626.70px;top:694.00px;font-size:10px;color:#444;letter-spacing:0.667px;-webkit-text-stroke:0.12px #444;">open</div>
<div class="t" style="left:626.70px;top:711.00px;font-size:9px;color:#444;letter-spacing:0.476px;-webkit-text-stroke:0.12px #444;">2 months</div>
<div class="t" style="left:626.70px;top:728.00px;font-size:9px;color:#444;letter-spacing:0.676px;-webkit-text-stroke:0.12px #444;">ago</div>
<div class="t" style="left:682.20px;top:694.00px;font-size:10px;color:#444;letter-spacing:0.534px;-webkit-text-stroke:0.12px #444;">General</div>
<div class="t" style="left:682.20px;top:711.00px;font-size:9px;color:#444;letter-spacing:0.446px;-webkit-text-stroke:0.12px #444;">2 months ago</div>
<div class="b" style="left:778.90px;top:691.90px;width:15.60px;height:17.50px;background:#fd7e14;border-radius:4px;"></div>
<div class="t" style="left:778.90px;top:696.65px;width:15.6px;text-align:center;font-size:8px;color:#fff;line-height:8px">UP</div>
<div class="t" style="left:807.80px;top:694.00px;font-size:10px;color:#444;letter-spacing:0.520px;-webkit-text-stroke:0.12px #444;">Ursula</div>
<div class="t" style="left:779.40px;top:713.00px;font-size:10px;color:#444;letter-spacing:0.617px;-webkit-text-stroke:0.12px #444;">Park</div>
<div class="t" style="left:779.40px;top:730.00px;font-size:9px;color:#444;letter-spacing:0.435px;-webkit-text-stroke:0.12px #444;">11 days ago</div>
<div class="t" style="left:883.90px;top:694.00px;font-size:10px;color:#444;letter-spacing:0.826px;-webkit-text-stroke:0.12px #444;">Low</div>
<div class="b" style="left:964.00px;top:134.00px;width:296.00px;height:223.00px;border:1px solid #e6e9ee;border-radius:5px;box-sizing:border-box;background:#fff;"></div>
<svg class="b" style="left:978.5px;top:150.6px" width="11" height="8" viewBox="0 0 11 8"><path d="M1.2 5.8 L5.2 1.6 L9.2 5.8" fill="none" stroke="#a2a6ad" stroke-width="1.4"/></svg>
<div class="t" style="left:999.00px;top:149.00px;font-size:13px;color:#3858a6;letter-spacing:0.803px;-webkit-text-stroke:0.35px #3858a6;">Active tickets per Status</div>
<div class="b" style="left:1202.20px;top:145.30px;width:18.80px;height:18.30px;border:1px solid #e6e9ee;border-radius:4px;box-sizing:border-box;background:#fff;"></div>
<div class="b" style="left:1224.50px;top:145.30px;width:18.80px;height:18.30px;border:1px solid #e6e9ee;border-radius:4px;box-sizing:border-box;background:#fff;"></div>
<svg class="b" style="left:1206.00px;top:148.60px" width="11.6" height="11.6" viewBox="0 0 16 16"><path fill="#333" fill-rule="evenodd" d="M8 3a5 5 0 1 0 4.546 2.914.5.5 0 0 1 .908-.417A6 6 0 1 1 8 2v1zM8 4.466V.534a.25.25 0 0 1 .41-.192l2.36 1.966c.12.1.12.284 0 .384L8.41 4.658A.25.25 0 0 1 8 4.466z"/></svg>
<svg class="b" style="left:1228.10px;top:148.50px" width="11.8" height="11.8" viewBox="0 0 16 16"><path fill="#333" d="M8 4.754a3.246 3.246 0 1 0 0 6.492 3.246 3.246 0 0 0 0-6.492zM5.754 8a2.246 2.246 0 1 1 4.492 0 2.246 2.246 0 0 1-4.492 0zM9.796 1.343c-.527-1.79-3.065-1.79-3.592 0l-.094.319a.873.873 0 0 1-1.255.52l-.292-.16c-1.64-.892-3.433.902-2.54 2.541l.159.292a.873.873 0 0 1-.52 1.255l-.319.094c-1.79.527-1.790 3.065 0 3.592l.319.094a.873.873 0 0 1 .52 1.255l-.16.292c-.892 1.64.901 3.434 2.541 2.54l.292-.159a.873.873 0 0 1 1.255.52l.094.319c.527 1.79 3.065 1.79 3.592 0l.094-.319a.873.873 0 0 1 1.255-.52l.292.16c1.64.893 3.434-.902 2.54-2.541l-.159-.292a.873.873 0 0 1 .52-1.255l.319-.094c1.79-.527 1.79-3.065 0-3.592l-.319-.094a.873.873 0 0 1-.52-1.255l.16-.292c.893-1.64-.902-3.433-2.541-2.54l-.292.159a.873.873 0 0 1-1.255-.52l-.094-.319zm-2.633.283c.246-.835 1.428-.835 1.674 0l.094.319a1.873 1.873 0 0 0 2.693 1.115l.291-.16c.764-.415 1.6.42 1.184 1.185l-.159.292a1.873 1.873 0 0 0 1.116 2.692l.318.094c.835.246.835 1.428 0 1.674l-.319.094a1.873 1.873 0 0 0-1.115 2.693l.16.291c.415.764-.42 1.6-1.185 1.184l-.291-.159a1.873 1.873 0 0 0-2.693 1.116l-.094.318c-.246.835-1.428.835-1.674 0l-.094-.319a1.873 1.873 0 0 0-2.692-1.115l-.292.16c-.764.415-1.6-.42-1.184-1.185l.159-.291A1.873 1.873 0 0 0 1.945 8.93l-.319-.094c-.835-.246-.835-1.428 0-1.674l.319-.094A1.873 1.873 0 0 0 3.06 4.377l-.16-.292c-.415-.764.42-1.6 1.185-1.184l.292.159a1.873 1.873 0 0 0 2.692-1.115l.094-.319z"/></svg>
<div class="b" style="left:1050.90px;top:184.20px;width:27.90px;height:7.30px;background:#a6cee3;"></div>
<div class="t" style="left:1084.50px;top:184.00px;font-size:9px;color:#666;letter-spacing:-0.255px;">new</div>
<div class="b" style="left:1108.70px;top:184.20px;width:28.40px;height:7.30px;background:#1f78b4;"></div>
<div class="t" style="left:1142.60px;top:184.00px;font-size:9px;color:#666;letter-spacing:-0.207px;">open</div>
<svg class="b" style="left:0;top:0" width="1310" height="750" viewBox="0 0 1310 750"><path d="M1105.9 262 L1105.9 201 A61 61 0 1 1 1047.89 280.85 Z" fill="#a6cee3" stroke="#fff" stroke-width="1.5"/><path d="M1105.9 262 L1047.89 280.85 A61 61 0 0 1 1105.9 201 Z" fill="#1f78b4" stroke="#fff" stroke-width="1.5"/></svg>
<div class="t" style="left:980.80px;top:328.00px;font-size:9.5px;color:#555;letter-spacing:-0.097px;-webkit-text-stroke:0.05px #555;">Last loaded Mon Mar 17 15:41:37 2025.</div>
<div class="b" style="left:964.00px;top:372.00px;width:296.00px;height:193.00px;border:1px solid #e6e9ee;border-radius:5px;box-sizing:border-box;background:#fff;"></div>
<svg class="b" style="left:978.5px;top:388.6px" width="11" height="8" viewBox="0 0 11 8"><path d="M1.2 5.8 L5.2 1.6 L9.2 5.8" fill="none" stroke="#a2a6ad" stroke-width="1.4"/></svg>
<div class="t" style="left:999.20px;top:387.00px;font-size:13px;color:#3858a6;letter-spacing:0.842px;-webkit-text-stroke:0.35px #3858a6;">My reminders</div>
<div class="t" style="left:986.90px;top:412.00px;font-size:10px;color:#3858a6;letter-spacing:0.557px;-webkit-text-stroke:0.35px #3858a6;">Reminder</div>
<div class="t" style="left:1106.00px;top:412.00px;font-size:10px;color:#3858a6;letter-spacing:0.826px;-webkit-text-stroke:0.35px #3858a6;">Due</div>
<div class="t" style="left:1149.80px;top:412.00px;font-size:10px;color:#3858a6;letter-spacing:0.473px;-webkit-text-stroke:0.35px #3858a6;">Ticket</div>
<div class="b" style="left:980.60px;top:430.70px;width:262.90px;height:1.00px;background:#e3e6ea;"></div>
<div class="t" style="left:986.90px;top:441.00px;font-size:10px;color:#4d4d4d;letter-spacing:0.511px;-webkit-text-stroke:0.42px #4d4d4d;">Check with user if</div>
<div class="t" style="left:986.90px;top:456.00px;font-size:10px;color:#4d4d4d;letter-spacing:0.534px;-webkit-text-stroke:0.42px #4d4d4d;">solution has</div>
<div class="t" style="left:986.90px;top:472.00px;font-size:10px;color:#4d4d4d;letter-spacing:0.522px;-webkit-text-stroke:0.42px #4d4d4d;">resolved the issue</div>
<div class="t" style="left:1106.00px;top:441.00px;font-size:10px;color:#444;letter-spacing:1.001px;-webkit-text-stroke:0.12px #444;">32</div>
<div class="t" style="left:1106.00px;top:456.00px;font-size:10px;color:#444;letter-spacing:0.563px;-webkit-text-stroke:0.12px #444;">hours</div>
<div class="t" style="left:1149.80px;top:441.00px;font-size:10px;color:#4d4d4d;letter-spacing:0.558px;-webkit-text-stroke:0.42px #4d4d4d;">#47: Sync Issues</div>
<div class="t" style="left:1149.80px;top:456.00px;font-size:10px;color:#4d4d4d;letter-spacing:0.550px;-webkit-text-stroke:0.42px #4d4d4d;">with Mobile</div>
<div class="t" style="left:1149.80px;top:472.00px;font-size:10px;color:#4d4d4d;letter-spacing:0.619px;-webkit-text-stroke:0.42px #4d4d4d;">Email App</div>
<div class="b" style="left:980.60px;top:490.70px;width:262.90px;height:1.00px;background:#e3e6ea;"></div>
<div class="t" style="left:986.90px;top:501.00px;font-size:10px;color:#4d4d4d;letter-spacing:0.529px;-webkit-text-stroke:0.42px #4d4d4d;">Review policy with</div>
<div class="t" style="left:986.90px;top:517.00px;font-size:10px;color:#4d4d4d;letter-spacing:0.795px;-webkit-text-stroke:0.42px #4d4d4d;">John</div>
<div class="t" style="left:1106.00px;top:501.00px;font-size:10px;color:#444;letter-spacing:0.530px;-webkit-text-stroke:0.12px #444;">3 days</div>
<div class="t" style="left:1149.80px;top:501.00px;font-size:10px;color:#4d4d4d;letter-spacing:0.512px;-webkit-text-stroke:0.42px #4d4d4d;">#45: IT Security</div>
<div class="t" style="left:1149.80px;top:517.00px;font-size:10px;color:#4d4d4d;letter-spacing:0.550px;-webkit-text-stroke:0.42px #4d4d4d;">Policies Review</div>
<div class="b" style="left:980.60px;top:535.80px;width:262.90px;height:1.00px;background:#e3e6ea;"></div>
<div class="b" style="left:964.00px;top:580.00px;width:296.00px;height:221.00px;border:1px solid #e6e9ee;border-radius:5px;box-sizing:border-box;background:#fff;"></div>
<svg class="b" style="left:978.5px;top:596.5px" width="11" height="8" viewBox="0 0 11 8"><path d="M1.2 5.8 L5.2 1.6 L9.2 5.8" fill="none" stroke="#a2a6ad" stroke-width="1.4"/></svg>
<div class="t" style="left:998.90px;top:594.00px;font-size:13px;color:#3858a6;letter-spacing:0.865px;-webkit-text-stroke:0.35px #3858a6;">50 highest priority tickets I</div>
<div class="t" style="left:981.00px;top:614.00px;font-size:13px;color:#3858a6;letter-spacing:1.076px;-webkit-text-stroke:0.35px #3858a6;">own</div>
<div class="t" style="left:1019.50px;top:615.00px;font-size:11.5px;color:#3858a6;letter-spacing:0.285px;-webkit-text-stroke:0.35px #3858a6;">(Found 2 tickets)</div>
<div class="b" style="left:1202.00px;top:610.60px;width:18.80px;height:18.30px;border:1px solid #e6e9ee;border-radius:4px;box-sizing:border-box;background:#fff;"></div>
<div class="b" style="left:1224.30px;top:610.60px;width:18.80px;height:18.30px;border:1px solid #e6e9ee;border-radius:4px;box-sizing:border-box;background:#fff;"></div>
<svg class="b" style="left:1205.80px;top:613.90px" width="11.6" height="11.6" viewBox="0 0 16 16"><path fill="#333" fill-rule="evenodd" d="M8 3a5 5 0 1 0 4.546 2.914.5.5 0 0 1 .908-.417A6 6 0 1 1 8 2v1zM8 4.466V.534a.25.25 0 0 1 .41-.192l2.36 1.966c.12.1.12.284 0 .384L8.41 4.658A.25.25 0 0 1 8 4.466z"/></svg>
<svg class="b" style="left:1227.90px;top:613.80px" width="11.8" height="11.8" viewBox="0 0 16 16"><path fill="#333" d="M8 4.754a3.246 3.246 0 1 0 0 6.492 3.246 3.246 0 0 0 0-6.492zM5.754 8a2.246 2.246 0 1 1 4.492 0 2.246 2.246 0 0 1-4.492 0zM9.796 1.343c-.527-1.79-3.065-1.79-3.592 0l-.094.319a.873.873 0 0 1-1.255.52l-.292-.16c-1.64-.892-3.433.902-2.54 2.541l.159.292a.873.873 0 0 1-.52 1.255l-.319.094c-1.79.527-1.790 3.065 0 3.592l.319.094a.873.873 0 0 1 .52 1.255l-.16.292c-.892 1.64.901 3.434 2.541 2.54l.292-.159a.873.873 0 0 1 1.255.52l.094.319c.527 1.79 3.065 1.79 3.592 0l.094-.319a.873.873 0 0 1 1.255-.52l.292.16c1.64.893 3.434-.902 2.54-2.541l-.159-.292a.873.873 0 0 1 .52-1.255l.319-.094c1.79-.527 1.79-3.065 0-3.592l-.319-.094a.873.873 0 0 1-.52-1.255l.16-.292c.893-1.64-.902-3.433-2.541-2.54l-.292.159a.873.873 0 0 1-1.255-.52l-.094-.319zm-2.633.283c.246-.835 1.428-.835 1.674 0l.094.319a1.873 1.873 0 0 0 2.693 1.115l.291-.16c.764-.415 1.6.42 1.184 1.185l-.159.292a1.873 1.873 0 0 0 1.116 2.692l.318.094c.835.246.835 1.428 0 1.674l-.319.094a1.873 1.873 0 0 0-1.115 2.693l.16.291c.415.764-.42 1.6-1.185 1.184l-.291-.159a1.873 1.873 0 0 0-2.693 1.116l-.094.318c-.246.835-1.428.835-1.674 0l-.094-.319a1.873 1.873 0 0 0-2.692-1.115l-.292.16c-.764.415-1.6-.42-1.184-1.185l.159-.291A1.873 1.873 0 0 0 1.945 8.93l-.319-.094c-.835-.246-.835-1.428 0-1.674l.319-.094A1.873 1.873 0 0 0 3.06 4.377l-.16-.292c-.415-.764.42-1.6 1.185-1.184l.292.159a1.873 1.873 0 0 0 2.692-1.115l.094-.319z"/></svg>
<div class="t" style="left:992.00px;top:639.00px;font-size:10px;color:#3858a6;-webkit-text-stroke:0.35px #3858a6;">#</div>
<div class="t" style="left:1010.80px;top:639.00px;font-size:10px;color:#3858a6;letter-spacing:0.500px;-webkit-text-stroke:0.35px #3858a6;">Subject</div>
<div class="t" style="left:1082.50px;top:639.00px;font-size:10px;color:#3858a6;letter-spacing:0.400px;-webkit-text-stroke:0.35px #3858a6;">Priority</div>
<div class="t" style="left:1140.90px;top:639.00px;font-size:10px;color:#3858a6;letter-spacing:0.676px;-webkit-text-stroke:0.35px #3858a6;">Queue</div>
<div class="t" style="left:1203.80px;top:639.00px;font-size:10px;color:#3858a6;letter-spacing:0.510px;-webkit-text-stroke:0.35px #3858a6;">Status</div>
<div class="b" style="left:980.60px;top:658.50px;width:262.60px;height:1.00px;background:#e3e6ea;"></div>
<div class="t" style="left:992.53px;top:668.00px;font-size:10px;color:#4d4d4d;-webkit-text-stroke:0.42px #4d4d4d;">7</div>
<div class="t" style="left:1010.80px;top:668.00px;font-size:10px;color:#4d4d4d;letter-spacing:1.121px;-webkit-text-stroke:0.42px #4d4d4d;">PTO</div>
<div class="t" style="left:1010.80px;top:684.00px;font-size:10px;color:#4d4d4d;letter-spacing:0.683px;-webkit-text-stroke:0.42px #4d4d4d;">Request</div>
<div class="t" style="left:1082.50px;top:668.00px;font-size:10px;color:#444;letter-spacing:0.826px;-webkit-text-stroke:0.12px #444;">Low</div>
<div class="t" style="left:1140.90px;top:668.00px;font-size:10px;color:#444;letter-spacing:0.534px;-webkit-text-stroke:0.12px #444;">General</div>
<div class="t" style="left:1203.80px;top:668.00px;font-size:10px;color:#444;letter-spacing:0.826px;-webkit-text-stroke:0.12px #444;">new</div>
<div class="b" style="left:980.60px;top:703.20px;width:262.60px;height:1.00px;background:#e3e6ea;"></div>
<div class="t" style="left:986.55px;top:713.00px;font-size:10px;color:#111;letter-spacing:1.224px;-webkit-text-stroke:0.42px #111;">10</div>
<div class="t" style="left:1010.80px;top:713.00px;font-size:10px;color:#111;letter-spacing:1.131px;-webkit-text-stroke:0.42px #111;">CAB</div>
<div class="t" style="left:1010.80px;top:728.00px;font-size:10px;color:#111;letter-spacing:0.721px;-webkit-text-stroke:0.42px #111;">Review</div>
<div class="t" style="left:1082.50px;top:713.00px;font-size:10px;color:#444;letter-spacing:0.826px;-webkit-text-stroke:0.12px #444;">Low</div>
<div class="t" style="left:1140.90px;top:713.00px;font-size:10px;color:#444;letter-spacing:0.534px;-webkit-text-stroke:0.12px #444;">General</div>
<div class="t" style="left:1203.80px;top:713.00px;font-size:10px;color:#444;letter-spacing:0.826px;-webkit-text-stroke:0.12px #444;">new</div>
</div>
<div class="b" style="left:0;top:0;width:1310px;height:11px;background:#000"></div>
<div class="b" style="left:0;top:0;width:11px;height:750px;background:#000"></div>
<div class="b" style="left:1291px;top:0;width:19px;height:750px;background:#000"></div>
<div class="b" style="left:0;top:731px;width:1310px;height:19px;background:#000"></div>
</body></html>
